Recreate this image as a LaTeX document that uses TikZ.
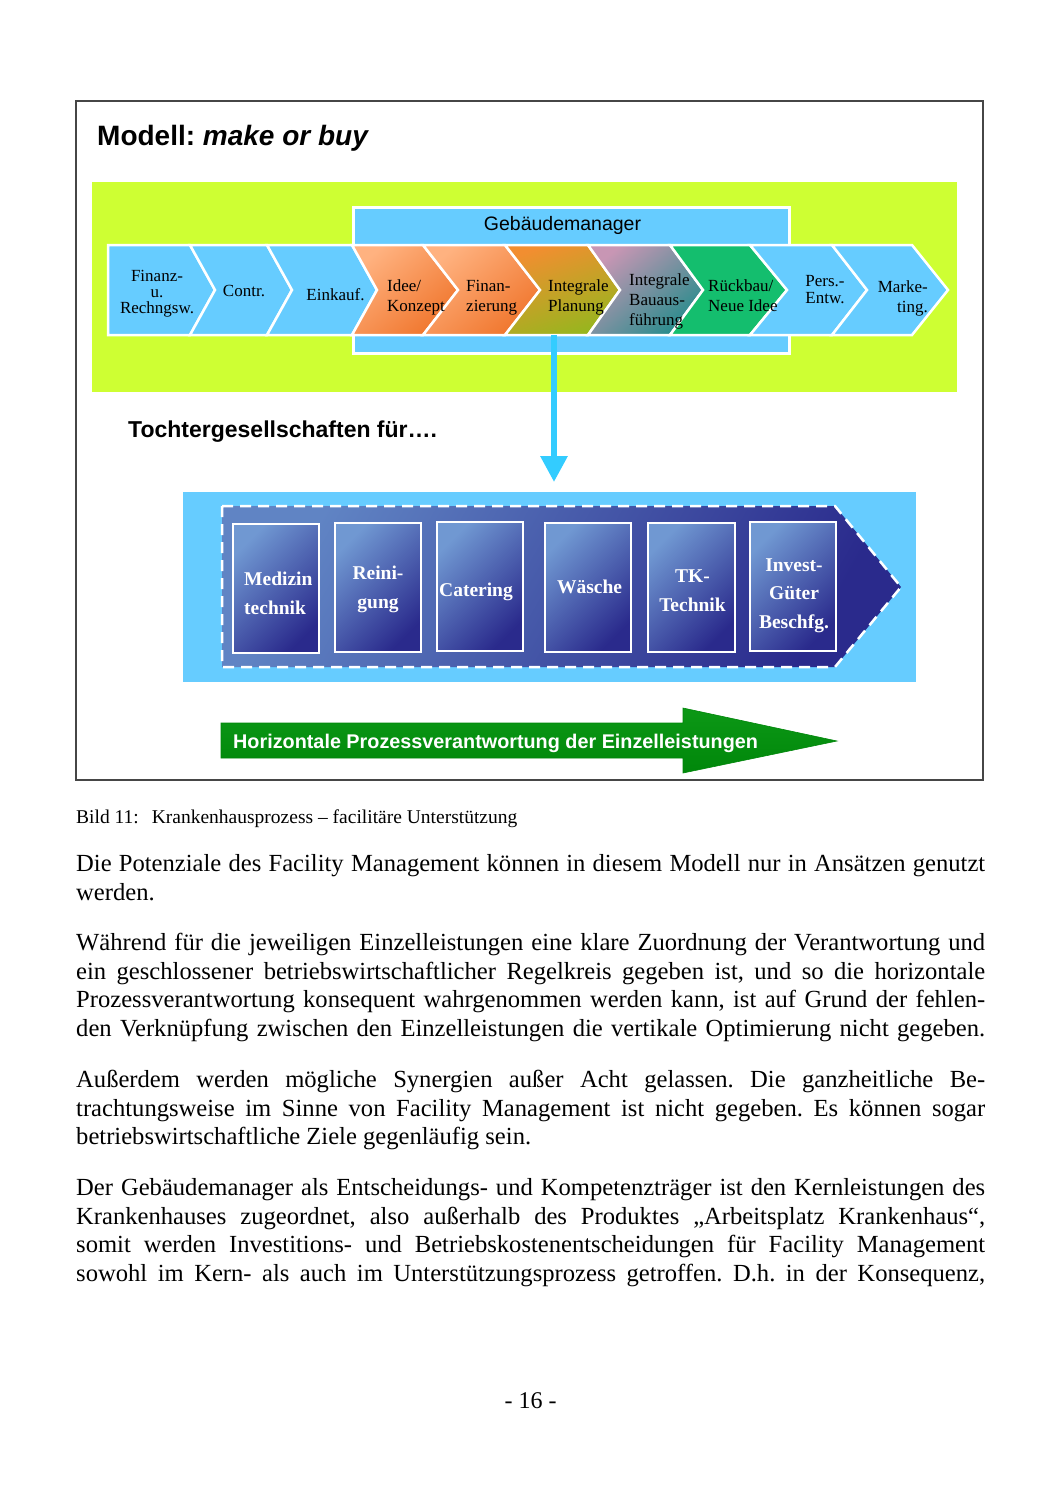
\documentclass[tikz,border=0pt]{standalone}
\usepackage{fontspec}
\setmainfont{Liberation Serif}
\newfontfamily\arial{Liberation Sans}
\usetikzlibrary{arrows.meta}
\frenchspacing
\definecolor{limebg}{RGB}{206,255,51}
\definecolor{skyb}{RGB}{102,204,255}
\definecolor{arrowb}{RGB}{51,204,255}
\definecolor{greenarr}{RGB}{12,152,22}
\definecolor{greenarrdk}{RGB}{0,135,10}
\definecolor{framec}{RGB}{70,70,70}
\definecolor{dkblue}{RGB}{42,42,140}
\definecolor{ltblue}{RGB}{112,152,210}
\definecolor{pentlt}{RGB}{96,132,196}
\definecolor{orlt}{RGB}{255,178,128}
\definecolor{ordk}{RGB}{240,118,45}
\definecolor{plantop}{RGB}{242,142,48}
\definecolor{planbot}{RGB}{150,182,30}
\definecolor{mauve}{RGB}{200,150,180}
\definecolor{teal2}{RGB}{40,140,140}
\definecolor{rgreen}{RGB}{20,190,110}
\newcommand{\justline}[1]{\hbox to 909pt{#1}}
\newcommand{\natline}[1]{\hbox{#1}}
\begin{document}
\begin{tikzpicture}[x=1pt,y=-1pt,
  chev/.style={draw=white, line width=2.5pt, line join=miter},
  ctext/.style={font=\fontsize{17}{20}\selectfont, inner sep=0, align=left},
  btext/.style={font=\fontsize{19.5}{28.8}\selectfont\bfseries, text=white, inner sep=0, align=center},
  ibox/.style={draw=white, line width=2.5pt, top color=ltblue, bottom color=dkblue, shading angle=45},
  bodytxt/.style={inner sep=0, anchor=base west}
]
\fill[white] (0,0) rectangle (1060,1500);
\useasboundingbox (0,0) rectangle (1060,1500);

% frame
\draw[framec, line width=1.1pt] (76,101) rectangle (983,780);
\node[inner sep=0, anchor=base west, font=\arial\fontsize{28}{32}\selectfont\bfseries] (title) at (97,145) {Modell: \textit{make or buy}};

% lime area
\fill[limebg] (92,182) rectangle (957,392);
\node[draw=white, line width=2.5pt, fill=skyb, minimum width=436, minimum height=146, inner sep=0, anchor=north west] (gm) at (352,206) {};
\node[inner sep=0, anchor=base, font=\arial\fontsize{19.5}{23}\selectfont] (gmtext) at (562.5,230) {Gebäudemanager};

% chevrons
\draw[chev, fill=skyb] (108,245) -- (190,245) -- (215,290) -- (190,335) -- (108,335) -- cycle;
\draw[chev, fill=skyb] (190,245) -- (267,245) -- (292,290) -- (267,335) -- (190,335) -- (215,290) -- cycle;
\draw[chev, fill=skyb] (267,245) -- (352,245) -- (377,290) -- (352,335) -- (267,335) -- (292,290) -- cycle;
\draw[chev, top color=orlt, bottom color=ordk, shading angle=40] (352,245) -- (423,245) -- (458,290) -- (423,335) -- (352,335) -- (377,290) -- cycle;
\draw[chev, top color=orlt, bottom color=ordk, shading angle=40] (423,245) -- (505,245) -- (540,290) -- (505,335) -- (423,335) -- (458,290) -- cycle;
\draw[chev, top color=plantop, bottom color=planbot, shading angle=20] (505,245) -- (588,245) -- (620,290) -- (588,335) -- (505,335) -- (540,290) -- cycle;
\draw[chev, top color=mauve, bottom color=teal2, shading angle=40] (588,245) -- (670,245) -- (703,290) -- (670,335) -- (588,335) -- (620,290) -- cycle;
\draw[chev, fill=rgreen] (670,245) -- (750,245) -- (787,290) -- (750,335) -- (670,335) -- (703,290) -- cycle;
\draw[chev, fill=skyb] (750,245) -- (832,245) -- (867,290) -- (832,335) -- (750,335) -- (787,290) -- cycle;
\draw[chev, fill=skyb] (832,245) -- (912,245) -- (948,290) -- (912,335) -- (832,335) -- (867,290) -- cycle;

\node[ctext, align=center, font=\fontsize{17}{16}\selectfont] (c1) at (157,293.2) {Finanz-\\u.\\Rechngsw.};
\node[ctext, anchor=base] (c2) at (244,296) {Contr.};
\node[ctext, anchor=base] (c3) at (335.5,300.7) {Einkauf.};
\node[ctext, anchor=west] (c4) at (387,297.7) {Idee/\\Konzept};
\node[ctext, anchor=west] (c5) at (466,297.7) {Finan-\\zierung};
\node[ctext, anchor=west] (c6) at (548,297.7) {Integrale\\Planung};
\node[ctext, anchor=west] (c7) at (629,301) {Integrale\\Bauaus-\\führung};
\node[ctext, anchor=west] (c8) at (708,296) {Rückbau/\\Neue Idee};
\node[ctext, align=center, font=\fontsize{17}{16.5}\selectfont] (c9) at (825,289.4) {Pers.-\\Entw.};
\node[ctext, align=right, anchor=east] (c10) at (928,298.4) {Marke-\\ting.};

% blue arrow down
\coordinate (a1) at (554,335);
\coordinate (a2) at (554,482);
\draw[arrowb, line width=6pt, -{Triangle[width=26pt,length=26pt]}] (a1) -- (a2);

\node[inner sep=0, anchor=base west, font=\arial\fontsize{23}{26}\selectfont\bfseries] (tochter) at (128,437) {Tochtergesellschaften für….};

% subsidiaries area
\node[fill=skyb, minimum width=733, minimum height=190, inner sep=0, anchor=north west] (sub) at (183,492) {};
\draw[white, line width=2.5pt, dash pattern=on 11pt off 7pt, top color=pentlt, bottom color=dkblue, shading angle=60]
  (222,506) -- (835,506) -- (901,587) -- (835,667) -- (222,667) -- cycle;

\draw[ibox] (233,524) rectangle (319,653);
\draw[ibox] (335,523) rectangle (421,652);
\draw[ibox] (437,522) rectangle (523,651);
\draw[ibox] (545,523) rectangle (631,652);
\draw[ibox] (648,523) rectangle (735,652);
\draw[ibox] (750,522) rectangle (836,651);

\node[btext, align=left, anchor=west] (b1) at (244,593.4) {Medizin\\technik};
\node[btext] (b2) at (378,589.3) {Reini-\\gung};
\node[btext, anchor=base] (b3) at (476,596) {Catering};
\node[btext, anchor=base] (b4) at (589.5,593.3) {Wäsche};
\node[btext] (b5) at (692.5,590.6) {TK-\\Technik};
\node[btext] (b6) at (794,595.6) {Invest-\\Güter\\Beschfg.};

% green arrow
\path[top color=greenarr, bottom color=greenarrdk, draw=greenarrdk, line width=0.6pt] (221,723) -- (683,723) -- (683,708) -- (837,741) -- (683,773) -- (683,758) -- (221,758) -- cycle;
\node[inner sep=0, anchor=base west, text=white, font=\arial\fontsize{19.8}{23}\selectfont\bfseries] (horiz) at (233,748) {Horizontale Prozessverantwortung der Einzelleistungen};

% caption and body text
\node[inner sep=0, anchor=base west, font=\fontsize{19.5}{23}\selectfont] (cap) at (76,823.5) {Bild 11:\hspace{13pt}Krankenhausprozess – facilitäre Unterstützung};

\node[bodytxt] (p1) at (76,871.5) {\vtop{\hsize=909pt\fontsize{24.6}{28.6}\selectfont
\justline{Die Potenziale des Facility Management können in diesem Modell nur in Ansätzen genutzt}
\natline{werden.}}};

\node[bodytxt] (p2) at (76,950.5) {\vtop{\hsize=909pt\fontsize{24.6}{28.6}\selectfont
\justline{Während für die jeweiligen Einzelleistungen eine klare Zuordnung der Verantwortung und}
\justline{ein geschlossener betriebswirtschaftlicher Regelkreis gegeben ist, und so die horizontale}
\justline{Prozessverantwortung konsequent wahrgenommen werden kann, ist auf Grund der fehlen-}
\justline{den Verknüpfung zwischen den Einzelleistungen die vertikale Optimierung nicht gegeben.}}};

\node[bodytxt] (p3) at (76,1087.5) {\vtop{\hsize=909pt\fontsize{24.6}{28.6}\selectfont
\justline{Außerdem werden mögliche Synergien außer Acht gelassen. Die ganzheitliche Be-}
\justline{trachtungsweise im Sinne von Facility Management ist nicht gegeben. Es können sogar}
\natline{betriebswirtschaftliche Ziele gegenläufig sein.}}};

\node[bodytxt] (p4) at (76,1195.5) {\vtop{\hsize=909pt\fontsize{24.6}{28.6}\selectfont
\justline{Der Gebäudemanager als Entscheidungs- und Kompetenzträger ist den Kernleistungen des}
\justline{Krankenhauses zugeordnet, also außerhalb des Produktes „Arbeitsplatz Krankenhaus“,}
\justline{somit werden Investitions- und Betriebskostenentscheidungen für Facility Management}
\justline{sowohl im Kern- als auch im Unterstützungsprozess getroffen. D.h. in der Konsequenz,}}};

\node[inner sep=0, anchor=base, font=\fontsize{24}{28}\selectfont] (pg) at (530.5,1408) {- 16 -};
\end{tikzpicture}
\end{document}
